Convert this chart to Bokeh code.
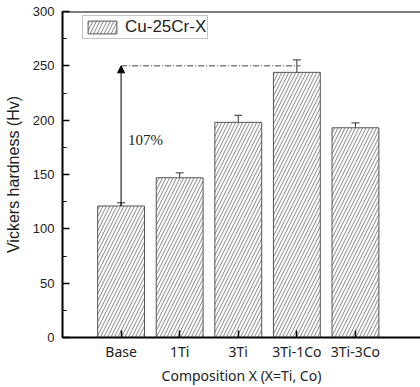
from bokeh.plotting import figure
from bokeh.models import (ColumnDataSource, Range1d, FixedTicker, SingleIntervalTicker,
                          Whisker, TeeHead, Arrow, NormalHead, Label, Legend, LegendItem, Span)
from bokeh.embed import file_html
from bokeh.resources import INLINE

categories = ["Base", "1Ti", "3Ti", "3Ti-1Co", "3Ti-3Co"]
hardness = [121, 147, 198, 244, 193]
errors = [3, 4.5, 6.5, 11.5, 4.5]
series_name = "Cu-25Cr-X"
increase_label = "107%"

xs = list(range(1, len(categories) + 1))
src = ColumnDataSource(dict(
    x=xs, top=hardness,
    lower=[h - e for h, e in zip(hardness, errors)],
    upper=[h + e for h, e in zip(hardness, errors)],
))

p = figure(width=420, height=387, output_backend="svg", toolbar_location=None,
           x_range=Range1d(0, 6.11), y_range=Range1d(0, 300), min_border=0,
           min_border_left=62, min_border_right=0, min_border_top=11, min_border_bottom=49)
p.xgrid.visible = False
p.ygrid.visible = False
p.outline_line_color = None
p.background_fill_color = "white"
p.border_fill_color = "white"

bars = p.vbar(x="x", top="top", width=0.8, source=src, fill_color="white",
              line_color="#555555", line_width=1,
              hatch_pattern="/", hatch_color="#666666", hatch_scale=7, hatch_weight=0.8)

p.add_layout(Whisker(source=src, base="x", lower="lower", upper="upper",
                     line_color="#333333", line_width=1,
                     upper_head=TeeHead(size=8, line_color="#333333", line_width=1),
                     lower_head=TeeHead(size=8, line_color="#333333", line_width=1)))

p.line(x=[xs[0], xs[3] + 0.06], y=[250, 250], line_color="#444444", line_width=1,
       line_dash="6 2 1 2")
p.add_layout(Arrow(x_start=xs[0], y_start=hardness[0], x_end=xs[0], y_end=250,
                   line_color="black", line_width=1,
                   end=NormalHead(size=7, fill_color="black", line_color="black")))
p.add_layout(Label(x=xs[0] + 0.12, y=182, text=increase_label, text_font="Liberation Serif",
                   text_font_size="15px", text_baseline="middle", text_align="left",
                   text_color="#222222"))

p.add_layout(Span(location=300, dimension="width", line_color="black", line_width=2))

p.xaxis.ticker = FixedTicker(ticks=xs)
p.xaxis.major_label_overrides = {x: c for x, c in zip(xs, categories)}
p.yaxis.ticker = SingleIntervalTicker(interval=50, num_minor_ticks=2)
for ax in (p.xaxis[0], p.yaxis[0]):
    ax.axis_line_width = 2
    ax.axis_line_color = "black"
    ax.major_tick_in = 7
    ax.major_tick_out = 0
    ax.minor_tick_in = 4
    ax.minor_tick_out = 0
    ax.major_tick_line_color = "black"
    ax.minor_tick_line_color = "black"
    ax.major_tick_line_width = 1.5
    ax.major_label_text_color = "#222222"
    ax.axis_label_text_font_style = "normal"
    ax.axis_label_text_color = "#222222"
    ax.major_label_standoff = 8
p.xaxis.minor_tick_line_color = None
p.xaxis.major_label_text_font = "Noto Sans"
p.xaxis.major_label_text_font_size = "14px"
p.xaxis.major_label_standoff = 4
p.xaxis.major_label_text_line_height = 1.0
p.yaxis.major_label_text_font = "Liberation Sans"
p.yaxis.major_label_text_font_size = "13px"
p.xaxis.axis_label = "Composition X (X=Ti, Co)"
p.xaxis.axis_label_text_font = "Noto Sans"
p.xaxis.axis_label_text_font_size = "14px"
p.xaxis.axis_label_text_line_height = 1.0
p.xaxis.axis_label_standoff = 2
p.yaxis.axis_label = "Vickers hardness (Hv)"
p.yaxis.axis_label_text_font = "Liberation Sans"
p.yaxis.axis_label_text_font_size = "16px"
p.yaxis.axis_label_standoff = 8

legend = Legend(items=[LegendItem(label=series_name, renderers=[bars])],
                location=(20, 298), border_line_color="#888888", border_line_width=1,
                padding=1, margin=0, glyph_width=36, glyph_height=16, label_standoff=5,
                label_height=16, label_text_line_height=1.0,
                label_text_font="Liberation Sans", label_text_font_size="17px",
                label_text_color="#222222", background_fill_alpha=1)
p.add_layout(legend)

open("out.html", "w").write(file_html(p, INLINE))
